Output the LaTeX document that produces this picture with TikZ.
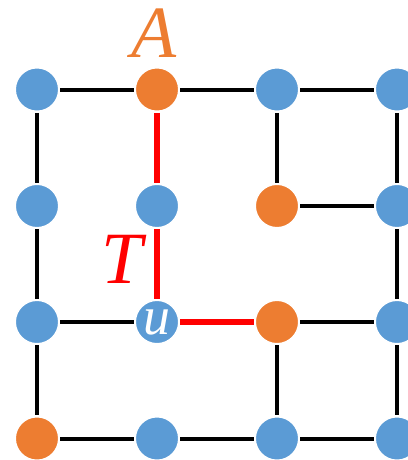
\documentclass[tikz,border=0pt]{standalone}
\usepackage{fontspec}
\setmainfont{Liberation Serif}
\usepackage{tikz}
\usetikzlibrary{arrows.meta}
\definecolor{vblue}{HTML}{5B9BD5}
\definecolor{vorange}{HTML}{ED7D31}
\definecolor{tred}{HTML}{FF0000}
\tikzset{
  every picture/.style={line join=round, line cap=butt, >=Stealth},
  vtx/.style={circle, fill=vblue, draw=white, line width=1.5pt, minimum size=1.535cm, inner sep=0pt, outer sep=1.5pt},
  vtxA/.style={vtx, fill=vorange},
  edge/.style={line width=4pt, black},
  tedge/.style={line width=7pt, tred},
  biglabel/.style={font=\fontsize{74}{74}\selectfont\itshape},
}

\begin{document}
\begin{tikzpicture}
\useasboundingbox (0,0) rectangle (14.393,16.228);
% vertices, row by row from the top
\node[vtx]  (v11) at (1.305,13.070) {};
\node[vtxA] (v12) at (5.539,13.070) {};
\node[vtx]  (v13) at (9.772,13.070) {};
\node[vtx]  (v14) at (14.005,13.070) {};
\node[vtx]  (v21) at (1.305,8.961) {};
\node[vtx]  (v22) at (5.539,8.961) {};
\node[vtxA] (v23) at (9.772,8.961) {};
\node[vtx]  (v24) at (14.005,8.961) {};
\node[vtx]  (v31) at (1.305,4.868) {};
\node[vtx,font=\fontsize{54}{54}\selectfont\itshape,text=white] (u) at (5.539,4.868) {u};
\node[vtxA] (v33) at (9.772,4.868) {};
\node[vtx]  (v34) at (14.005,4.868) {};
\node[vtxA] (v41) at (1.305,0.758) {};
\node[vtx]  (v42) at (5.539,0.758) {};
\node[vtx]  (v43) at (9.772,0.758) {};
\node[vtx]  (v44) at (14.005,0.758) {};
% grid edges
\draw[edge] (v11)--(v12); \draw[edge] (v12)--(v13); \draw[edge] (v13)--(v14);
\draw[edge] (v11)--(v21); \draw[edge] (v21)--(v31); \draw[edge] (v31)--(v41);
\draw[edge] (v13)--(v23); \draw[edge] (v23)--(v24);
\draw[edge] (v14)--(v24); \draw[edge] (v24)--(v34); \draw[edge] (v34)--(v44);
\draw[edge] (v31)--(u); \draw[edge] (v33)--(v34); \draw[edge] (v33)--(v43);
\draw[edge] (v41)--(v42); \draw[edge] (v42)--(v43); \draw[edge] (v43)--(v44);
% tree T
\draw[tedge] (v12)--(v22);
\draw[tedge] (v22)--(u);
\draw[tedge] (u)--(v33);
% labels
\node[biglabel,text=vorange,inner sep=0pt] (lA) at (5.433,15.050) {A};
\node[biglabel,text=tred,inner sep=0pt] (lT) at (4.304,7.091) {T};
\end{tikzpicture}
\end{document}
